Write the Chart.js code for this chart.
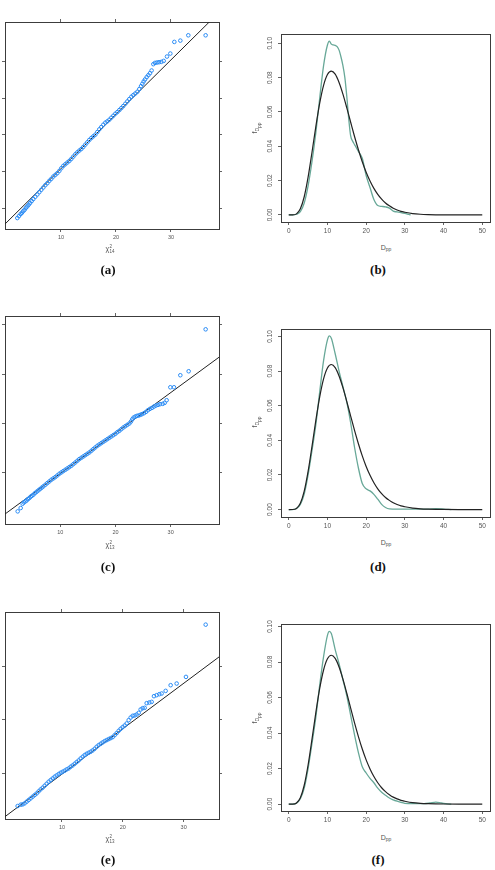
<!DOCTYPE html>
<html>
<head>
<meta charset="utf-8">
<script src="https://cdn.jsdelivr.net/npm/chart.js@4.4.1/dist/chart.umd.min.js"></script>
<style>
  body { margin: 0; width: 495px; height: 870px; background: #fff; position: relative; overflow: hidden;
         font-family: "Liberation Sans", Arial, sans-serif; }
  .panel { position: absolute; }
  .lab { position: absolute; font-size: 7px; color: #555; transform: translate(-50%, -50%); white-space: nowrap; }
  .lab sub { font-size: 5px; vertical-align: -1.5px; }
  .rot { transform: translate(-50%, -50%) rotate(-90deg); }
  .stack { display: inline-block; vertical-align: middle; font-size: 4.5px; line-height: 4.5px; margin-left: 0.5px; }
  .stack span { display: block; }
  .cap { position: absolute; font-family: "Liberation Serif", serif; font-weight: bold; font-size: 13px;
         color: #111; transform: translate(-50%, -50%); }
</style>
</head>
<body>

<div class="panel" style="left:0px;top:12px;width:229px;height:233px"><canvas id="qqA"></canvas></div>
<div class="panel" style="left:251px;top:28px;width:243px;height:208px"><canvas id="densB"></canvas></div>
<div class="panel" style="left:0px;top:306px;width:229px;height:234px"><canvas id="qqC"></canvas></div>
<div class="panel" style="left:251px;top:323px;width:243px;height:208px"><canvas id="densD"></canvas></div>
<div class="panel" style="left:0px;top:602px;width:229px;height:233px"><canvas id="qqE"></canvas></div>
<div class="panel" style="left:251px;top:618px;width:243px;height:207px"><canvas id="densF"></canvas></div>

<div class="lab" style="left:110px;top:249px">χ<span class="stack"><span>2</span><span>14</span></span></div>
<div class="lab" style="left:110px;top:545px">χ<span class="stack"><span>2</span><span>13</span></span></div>
<div class="lab" style="left:110px;top:839px">χ<span class="stack"><span>2</span><span>13</span></span></div>

<div class="lab" style="left:386px;top:248px">D<sub>pp</sub></div>
<div class="lab" style="left:386px;top:543px">D<sub>pp</sub></div>
<div class="lab" style="left:386px;top:838px">D<sub>pp</sub></div>
<div class="lab rot" style="left:256px;top:128px">f<sub>D<sub>pp</sub></sub></div>
<div class="lab rot" style="left:256px;top:422px">f<sub>D<sub>pp</sub></sub></div>
<div class="lab rot" style="left:256px;top:718px">f<sub>D<sub>pp</sub></sub></div>

<div class="cap" style="left:108px;top:270px">(a)</div>
<div class="cap" style="left:378px;top:270px">(b)</div>
<div class="cap" style="left:108px;top:567px">(c)</div>
<div class="cap" style="left:378px;top:567px">(d)</div>
<div class="cap" style="left:108px;top:860px">(e)</div>
<div class="cap" style="left:378px;top:860px">(f)</div>

<script>
// ---- tick values ----
const qqXTicks = [10, 20, 30];
const qqYTicksA = [10, 20, 30, 40, 50];
const qqYTicksC = [10, 20, 30, 40];
const qqYTicksE = [10, 20, 30];
const dppTicks = [0, 10, 20, 30, 40, 50];
const densTicks = [0, 0.02, 0.04, 0.06, 0.08, 0.10];

// ---- QQ plots: chi-square quantiles (x) vs sample quantiles (y) ----
const qqAx = [2.06,2.36,2.67,2.91,3.15,3.39,3.64,3.88,4.12,4.36,4.67,4.97,5.33,5.70,6.06,6.42,6.79,7.15,7.52,7.88,
  8.24,8.61,8.97,9.33,9.70,10.06,10.42,10.79,11.15,11.52,11.88,12.24,12.61,12.97,13.33,13.70,14.06,14.42,14.79,15.15,
  15.52,15.88,16.24,16.61,16.97,17.33,17.70,18.06,18.42,18.79,19.15,19.52,19.88,20.24,20.61,20.97,21.33,21.70,22.06,22.42,
  22.79,23.15,23.52,23.88,24.24,24.55,24.79,25.03,25.27,25.58,25.88,26.18,26.48,26.79,27.09,27.45,27.82,28.24,28.67,29.27,
  29.88,30.61,31.70,33.15,36.30];
const qqAy = [7.26,7.81,8.35,8.72,9.17,9.54,10.08,10.45,10.90,11.35,11.90,12.45,13.08,13.72,14.35,14.99,15.63,16.26,16.81,17.45,
  17.99,18.63,19.08,19.54,20.17,20.90,21.54,21.99,22.45,22.90,23.45,24.08,24.72,25.26,25.72,26.17,26.72,27.35,27.99,28.63,
  29.17,29.63,30.08,30.81,31.54,32.17,32.81,33.36,33.72,34.17,34.72,35.26,35.81,36.26,36.81,37.35,37.90,38.54,39.17,39.81,
  40.45,40.90,41.35,41.81,42.54,43.35,43.99,44.63,45.17,45.81,46.35,46.90,47.63,49.36,49.72,49.81,49.90,49.99,50.26,51.45,
  52.27,55.45,55.81,57.26,57.26];
const lineAx = [-1, 40];
const lineAy = [4.41, 65.42];

const qqCx = [2.27,2.81,3.17,3.41,3.66,3.90,4.14,4.38,4.62,4.86,5.11,5.41,5.71,6.01,6.31,6.62,6.92,7.28,7.64,8.01,
  8.37,8.73,9.09,9.46,9.82,10.18,10.54,10.91,11.27,11.63,11.99,12.36,12.72,13.08,13.44,13.81,14.17,14.53,14.89,15.26,
  15.62,15.98,16.34,16.71,17.07,17.43,17.79,18.16,18.52,18.88,19.24,19.61,19.97,20.33,20.69,21.06,21.42,21.78,22.14,22.51,
  22.81,23.05,23.29,23.60,23.90,24.20,24.50,24.80,25.17,25.53,25.89,26.25,26.62,26.98,27.34,27.70,28.07,28.55,28.91,29.27,
  29.94,30.60,31.75,33.26,36.34];
const qqCy = [2.08,2.76,3.64,3.91,4.11,4.31,4.58,4.79,5.06,5.26,5.46,5.80,6.07,6.34,6.61,6.89,7.16,7.49,7.83,8.17,
  8.51,8.78,9.05,9.39,9.73,10.00,10.27,10.54,10.81,11.08,11.35,11.69,12.03,12.37,12.71,12.98,13.25,13.52,13.79,14.06,
  14.40,14.74,15.08,15.42,15.69,15.96,16.23,16.50,16.77,17.04,17.31,17.58,17.85,18.19,18.46,18.80,19.14,19.41,19.68,19.95,
  20.36,20.83,21.17,21.37,21.51,21.58,21.71,21.85,22.05,22.32,22.66,22.93,23.13,23.40,23.61,23.74,23.88,23.95,24.15,24.69,
  27.32,27.32,29.77,30.58,39.11];
const lineCx = [-1, 40];
const lineCy = [0.74, 34.45];

const qqEx = [2.71,3.21,3.53,3.86,4.19,4.52,4.85,5.18,5.51,5.84,6.16,6.49,6.82,7.15,7.48,7.81,8.14,8.47,8.79,9.12,
  9.45,9.78,10.11,10.44,10.77,11.10,11.42,11.75,12.08,12.41,12.74,13.07,13.40,13.73,14.05,14.38,14.71,15.04,15.37,15.70,
  16.03,16.36,16.68,17.01,17.34,17.67,18.00,18.33,18.66,18.99,19.32,19.64,19.97,20.30,20.63,20.96,21.29,21.62,21.95,22.27,
  22.60,22.93,23.26,23.59,23.92,24.36,24.74,25.12,25.56,26.00,26.38,27.04,27.86,28.85,30.38,33.62];
const qqEy = [3.91,4.16,4.22,4.41,4.72,5.03,5.34,5.65,5.96,6.27,6.65,7.02,7.33,7.70,8.07,8.45,8.76,9.07,9.38,9.63,
  9.88,10.12,10.31,10.50,10.75,10.93,11.24,11.49,11.80,12.11,12.42,12.80,13.11,13.42,13.66,13.85,14.04,14.29,14.60,14.97,
  15.28,15.53,15.78,16.02,16.21,16.40,16.58,16.77,17.14,17.52,17.95,18.32,18.63,18.94,19.32,19.94,20.43,20.75,20.81,20.99,
  21.30,21.93,22.17,22.24,23.11,23.23,23.35,24.41,24.60,24.78,24.91,25.40,26.46,26.77,28.01,37.76];
const lineEx = [-1, 40];
const lineEy = [0.55, 35.28];

// ---- density plots: fitted curve (black, same in b, d, f) ----
const dppGrid = [0,1,2,3,4,5,6,7,8,9,10,11,12,13,14,15,16,17,18,19,20,21,22,23,24,25,26,27,28,29,30,32,34,36,38,40,45,50];
const fittedDens = [0,0.00002,0.00064,0.0036,0.0106,0.0220,0.0364,0.0515,0.0651,0.0755,0.0818,0.0838,0.0820,0.0772,0.0704,
  0.0624,0.0540,0.0457,0.0380,0.0310,0.0249,0.0198,0.0155,0.0120,0.0092,0.0070,0.0053,0.0039,0.0029,0.0021,0.0016,
  0.0008,0.0004,0.0002,0.0001,0.00005,0.00001,0];

// kernel density estimates (teal)
const kdeBx = [0,1,2,3,4,5,6,7,8,9,10,10.5,11,11.5,12,12.5,13,13.5,14,14.5,15,15.5,16,16.5,17,17.5,18,19,20,21,22,23,24,25,26,27,28,29,30,31,31.5];
const kdeBy = [0,0,0.0004,0.002,0.007,0.017,0.031,0.048,0.068,0.087,0.099,0.1013,0.0995,0.0990,0.0988,0.098,0.096,0.092,0.087,0.080,
  0.069,0.056,0.046,0.043,0.041,0.039,0.037,0.033,0.023,0.016,0.009,0.0055,0.0050,0.0047,0.0040,0.0022,0.0018,0.0014,0.0009,0.0003,0];

const kdeDx = [0,1,2,3,4,5,6,7,8,9,10,10.5,11,12,13,14,15,16,17,18,19,20,21,22,23,24,25,26,28,32,36,38,40,42];
const kdeDy = [0,0,0.0006,0.003,0.009,0.020,0.034,0.049,0.068,0.086,0.098,0.1003,0.099,0.090,0.080,0.071,0.062,0.050,0.036,0.024,
  0.015,0.012,0.0108,0.0088,0.006,0.003,0.0012,0.0004,0.0003,0.0003,0.0003,0.0005,0.0003,0];

const kdeFx = [0,1,2,3,4,5,6,7,8,9,10,10.5,11,12,13,14,15,16,17,18,19,20,21,22,23,24,25,26,27,28,29,30,32,35,36.5,38,39.5,41,42];
const kdeFy = [0,0,0.0005,0.003,0.009,0.020,0.034,0.049,0.067,0.083,0.095,0.0972,0.096,0.087,0.079,0.070,0.061,0.050,0.039,0.029,
  0.021,0.0175,0.0145,0.012,0.009,0.0067,0.005,0.0034,0.0024,0.0016,0.0009,0.0004,0.0002,0.0002,0.0006,0.0011,0.0006,0.0001,0];

Chart.defaults.font.family = '"Liberation Sans", Arial, sans-serif';
const frameColor = '#3c3c3c';
const qqBlue = '#2b8cf5';
const teal = '#68a898';

function pairs(xs, ys) {
  return xs.map((x, i) => ({ x: x, y: ys[i] }));
}
function setTicks(values) {
  return s => { s.ticks = values.map(v => ({ value: v })); };
}
function sized(px) {
  return s => { if (s.isHorizontal()) s.height = px; else s.width = px; };
}
function axis(position, min, max, ticks, size, labels) {
  return {
    type: 'linear', position: position, min: min, max: max,
    afterBuildTicks: setTicks(ticks),
    afterFit: sized(size),
    border: { display: true, color: frameColor, width: 1 },
    grid: { drawOnChartArea: false, drawTicks: ticks.length > 0, tickLength: 3, tickColor: frameColor, tickWidth: 0.8 },
    ticks: labels ? Object.assign({ color: '#555' }, labels) : { display: false }
  };
}
const common = {
  animation: false, responsive: true, maintainAspectRatio: false, devicePixelRatio: 1,
  layout: { padding: 0 },
  plugins: { legend: { display: false }, tooltip: { enabled: false } }
};

function qqChart(id, xs, ys, lx, ly, xr, yr, yTicks) {
  new Chart(document.getElementById(id), {
    type: 'scatter',
    data: {
      datasets: [
        { data: pairs(xs, ys), pointRadius: 1.8, pointBorderWidth: 1, pointBorderColor: qqBlue,
          pointBackgroundColor: 'rgba(0,0,0,0)' },
        { data: pairs(lx, ly), showLine: true, pointRadius: 0, borderColor: '#222', borderWidth: 1 }
      ]
    },
    options: Object.assign({}, common, {
      scales: {
        x: axis('bottom', xr[0], xr[1], qqXTicks, 16, { font: { size: 5.5 }, padding: 2 }),
        x2: axis('top', xr[0], xr[1], qqXTicks, 10),
        y: axis('left', yr[0], yr[1], yTicks, 5),
        y2: axis('right', yr[0], yr[1], yTicks, 10)
      }
    })
  });
}

function densityChart(id, kx, ky, yr) {
  new Chart(document.getElementById(id), {
    type: 'line',
    data: {
      datasets: [
        { data: pairs(dppGrid, fittedDens), borderColor: '#222', borderWidth: 1.2, pointRadius: 0,
          cubicInterpolationMode: 'monotone' },
        { data: pairs(kx, ky), borderColor: teal, borderWidth: 1.3, pointRadius: 0,
          cubicInterpolationMode: 'monotone' }
      ]
    },
    options: Object.assign({}, common, {
      scales: {
        x: axis('bottom', -2, 52, dppTicks, 14, { font: { size: 6.5 }, padding: 2 }),
        x2: axis('top', -2, 52, [], 6),
        y: axis('left', yr[0], yr[1], densTicks, 30, {
          font: { size: 6.5 }, padding: 1, minRotation: 90, maxRotation: 90, crossAlign: 'center',
          callback: v => Number(v).toFixed(2)
        }),
        y2: axis('right', yr[0], yr[1], [], 4)
      }
    })
  });
}

qqChart('qqA', qqAx, qqAy, lineAx, lineAy, [-0.18, 38.73], [4.27, 60.9], qqYTicksA);
qqChart('qqC', qqCx, qqCy, lineCx, lineCy, [-0.03, 38.76], [-0.49, 41.82], qqYTicksC);
qqChart('qqE', qqEx, qqEy, lineEx, lineEy, [0.63, 35.81], [1.49, 40.12], qqYTicksE);

densityChart('densB', kdeBx, kdeBy, [-0.0041, 0.1054]);
densityChart('densD', kdeDx, kdeDy, [-0.0043, 0.1043]);
densityChart('densF', kdeFx, kdeFy, [-0.0039, 0.1014]);
</script>
</body>
</html>
